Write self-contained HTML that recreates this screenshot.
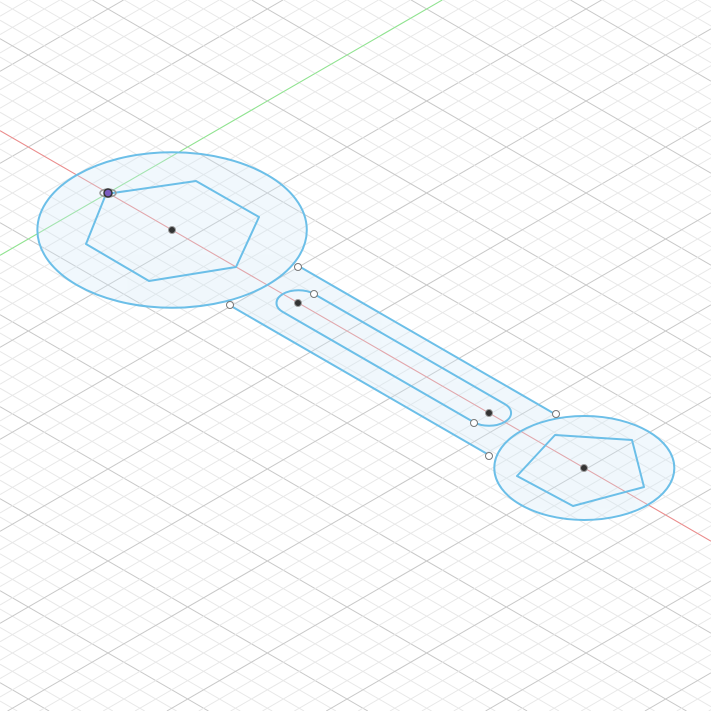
<!DOCTYPE html>
<html><head><meta charset="utf-8"><style>
html,body{margin:0;padding:0;background:#fff;width:711px;height:711px;overflow:hidden;}
svg{display:block;}
</style></head><body>
<svg id="c" width="711" height="711" viewBox="0 0 711 711" style="overflow:hidden">
<g id="grid"></g>
<g id="axes"></g>
<g id="plane" transform="matrix(0.866,0.5,0.866,-0.5,108,193)">
  <g opacity="0.3" fill="#cfe8f8">
    <circle cx="74" cy="0" r="110"/>
    <circle cx="550" cy="0" r="73.5"/>
    <polygon points="183,37 481,37 481,-42 183,-42"/>
  </g>
  <g fill="none" stroke="#6cbfe8" stroke-width="2">
    <circle cx="74" cy="0" r="110" vector-effect="non-scaling-stroke"/>
    <circle cx="550" cy="0" r="73.5" vector-effect="non-scaling-stroke"/>
    <line x1="183" y1="37" x2="481" y2="37" vector-effect="non-scaling-stroke"/>
    <line x1="183" y1="-42" x2="483" y2="-42" vector-effect="non-scaling-stroke"/>
    <path d="M220,18 L440,18 A18,18 0 0 0 440,-18 L220,-18 A18,18 0 0 0 220,18 Z" vector-effect="non-scaling-stroke"/>
  </g>
</g>
<g fill="none" stroke="#6cbfe8" stroke-width="2" stroke-linejoin="round">
  <polygon points="106,194 196,181 259,217 236,267 149,281 86,244"/>
  <polygon points="555,435 632,440 644,487 573,506 517,476"/>
</g>
<g fill="#fff" stroke="#777" stroke-width="1">
  <circle cx="298" cy="267" r="3.5"/>
  <circle cx="230" cy="305" r="3.5"/>
  <circle cx="556" cy="414" r="3.5"/>
  <circle cx="489" cy="456" r="3.5"/>
  <circle cx="314" cy="294" r="3.5"/>
  <circle cx="474" cy="423" r="3.5"/>
</g>
<g fill="#333" stroke="#999" stroke-width="1">
  <circle cx="172" cy="230" r="3.5"/>
  <circle cx="584" cy="468" r="3.5"/>
  <circle cx="298" cy="303" r="3.5"/>
  <circle cx="489" cy="413" r="3.5"/>
</g>
<ellipse cx="108" cy="193" rx="8" ry="4" fill="none" stroke="#999" stroke-width="1.5"/>
<circle cx="108" cy="193" r="4" fill="#7a5cc0" stroke="#333" stroke-width="1.5"/>
</svg>
<script>
var NS='http://www.w3.org/2000/svg';
var minor=18.4;
function P(a,b){return [108+0.866*(a+b),193+0.5*(a-b)];}
function clip(p,q){
  var t0=0,t1=1,dx=q[0]-p[0],dy=q[1]-p[1];
  var ps=[-dx,dx,-dy,dy],qs=[p[0],711-p[0],p[1],711-p[1]];
  for(var i=0;i<4;i++){
    if(ps[i]===0){if(qs[i]<0)return null;continue;}
    var r=qs[i]/ps[i];
    if(ps[i]<0){if(r>t1)return null;if(r>t0)t0=r;}
    else{if(r<t0)return null;if(r<t1)t1=r;}
  }
  return [p[0]+t0*dx,p[1]+t0*dy,p[0]+t1*dx,p[1]+t1*dy];
}
function mk(parent,p,q,color){
  var c=clip(p,q); if(!c) return null;
  var l=document.createElementNS(NS,'line');
  l.setAttribute('x1',c[0].toFixed(2));l.setAttribute('y1',c[1].toFixed(2));
  l.setAttribute('x2',c[2].toFixed(2));l.setAttribute('y2',c[3].toFixed(2));
  l.setAttribute('stroke',color);l.setAttribute('stroke-width','1');
  parent.appendChild(l); return l;
}
var g=document.getElementById('grid');
for(var i=-80;i<=80;i++){
  var major=(i%5===0);
  var v=i*minor;
  var l1=mk(g,P(v,-1500),P(v,1500),major?'#c8c8c8':'#e8e8e8');
  if(l1){
    
    
  }
  var l2=mk(g,P(-1500,v),P(1500,v),major?'#c8c8c8':'#e8e8e8');
  if(l2){
    
    
  }
}
var ax=document.getElementById('axes');
var xr=mk(ax,P(-1500,0),P(1500,0),'#f08a8a');


var yg=mk(ax,P(0,-1500),P(0,1500),'#8ee88e');


</script>
</body></html>
